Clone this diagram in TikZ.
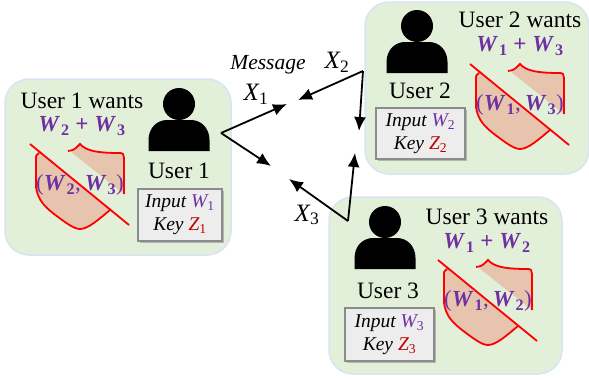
\documentclass[tikz,border=0pt]{standalone}
\usepackage{fontspec}
\setmainfont{Liberation Serif}
\usetikzlibrary{arrows.meta, positioning, calc, shadows}
\definecolor{panelgreen}{HTML}{E2EFD9}
\definecolor{panelblue}{HTML}{DAE3F3}
\definecolor{msgpurple}{HTML}{7030A0}
\definecolor{keyred}{HTML}{C00000}
\definecolor{cachefill}{HTML}{E6C4AE}
\newcommand{\wantW}[1]{\textcolor{msgpurple}{\textbf{\textit{W}\kern1pt\textsubscript{#1}}}}
\newcommand{\inW}[1]{\textcolor{msgpurple}{\textit{W}\textsubscript{\textup{#1}}}}
\newcommand{\inZ}[1]{\textcolor{keyred}{\textit{Z}\textsubscript{\textup{#1}}}}
\tikzset{
  panel/.style={draw=panelblue, line width=1.5pt, fill=panelgreen, rounded corners=24pt},
  inputbox/.style={draw=black!45, line width=1.2pt, fill=black!7, drop shadow={shadow xshift=1.5pt, shadow yshift=-1.5pt, fill=black!50},
    align=center, inner sep=0pt, font=\fontsize{19.5}{23}\selectfont\itshape},
  usertext/.style={font=\fontsize{23.5}{28}\selectfont, inner sep=0pt},
  wanttext/.style={font=\fontsize{23}{28}\selectfont, inner sep=0pt},
  msgarrow/.style={-{Latex[length=14pt,width=12pt]}, line width=1.8pt, black},
  msglabel/.style={font=\fontsize{25}{28}\selectfont\itshape, inner sep=0pt},
}
\begin{document}
\begin{tikzpicture}[x=1pt,y=-1pt]
\useasboundingbox (0,0) rectangle (589,380);
% Panels
\draw[panel] (5,79) rectangle (231,255);
\draw[panel] (365,2) rectangle (589,174);
\draw[panel] (329,197) rectangle (562,374);
% Silhouettes
\foreach \hx/\hy in {179/104, 417/26, 385/222} {
  \fill[black] (\hx,\hy) circle (16);
  \fill[black,shift={(\hx,\hy)}] (-30.5,47) -- (-30.5,36) .. controls (-30.5,24) and (-22,16) .. (-12,16)
    -- (12,16) .. controls (22,16) and (30.5,24) .. (30.5,36) -- (30.5,47) -- cycle;
}
% Crossed out caches
\foreach \cx/\cy/\ca/\cb [count=\i] in {80/144/2/3, 520/64/1/3, 488/260/1/2} {
  \begin{scope}[shift={(\cx,\cy)}]
    \fill[cachefill] (-41,7) .. controls (-44,10) .. (-44,16) -- (-44,43) .. controls (-42,56) and (-36,62) .. (-26,70)
      .. controls (-14,79) and (-6,85) .. (0,85) .. controls (8,85) and (18,76) .. (30,66) -- cycle;
    \fill[cachefill] (-9,8) .. controls (-6,5) .. (0,0) .. controls (6,7) and (18,9) .. (40,9)
      .. controls (43,9) .. (44,14) -- (44,50) -- cycle;
    \draw[red, line width=1.8pt] (-41,9) .. controls (-44,11) .. (-44,16) -- (-44,43) .. controls (-42,56) and (-36,62) .. (-26,70)
      .. controls (-14,79) and (-6,85) .. (0,85) .. controls (8,85) and (18,76) .. (30,66);
    \draw[red, line width=1.8pt] (-12,7) .. controls (-6,6) .. (0,0) .. controls (6,7) and (18,9) .. (40,9)
      .. controls (43,9) .. (44,14) -- (44,50);
    \draw[red, line width=1.8pt] (-50,0) -- (49,81);
    \node[wanttext, text=msgpurple] (cache\i) at (0,41) {(\wantW{\ca},\,\wantW{\cb})};
  \end{scope}
}
% User 1
\node[usertext] (wants1) at (82,101) {User 1 wants};
\node[wanttext] (sum1) at (82,126) {\wantW{2} \textcolor{msgpurple}{\textbf{+}} \wantW{3}};
\node[usertext] (user1) at (179,171) {User 1};
\node[inputbox, minimum width=84pt, minimum height=52pt] (box1) at (180,215) {Input \inW{1}\\Key \inZ{1}};
% User 2
\node[usertext] (wants2) at (520,20) {User 2 wants};
\node[wanttext] (sum2) at (520,46) {\wantW{1} \textcolor{msgpurple}{\textbf{+}} \wantW{3}};
\node[usertext] (user2) at (420,91) {User 2};
\node[inputbox, minimum width=89pt, minimum height=51pt] (box2) at (420.5,133.5) {Input \inW{2}\\Key \inZ{2}};
% User 3
\node[usertext] (wants3) at (487,217) {User 3 wants};
\node[wanttext] (sum3) at (487,243) {\wantW{1} \textcolor{msgpurple}{\textbf{+}} \wantW{2}};
\node[usertext] (user3) at (388,291) {User 3};
\node[inputbox, minimum width=89pt, minimum height=53pt] (box3) at (389.5,334.5) {Input \inW{3}\\Key \inZ{3}};
% Arrows
\coordinate (hub1) at (221,133);
\coordinate (hub2) at (363,71);
\coordinate (hub3) at (348,221);
\coordinate (end12) at (287,104);
\coordinate (end13) at (271,166);
\coordinate (end21) at (298,100);
\coordinate (end23) at (359,131);
\coordinate (end31) at (289,179);
\coordinate (end32) at (355,153);
\draw[msgarrow] (hub1) -- (end12);
\draw[msgarrow] (hub1) -- (end13);
\draw[msgarrow] (hub2) -- (end21);
\draw[msgarrow] (hub2) -- (end23);
\draw[msgarrow] (hub3) -- (end31);
\draw[msgarrow] (hub3) -- (end32);
\node[msglabel, font=\fontsize{21.5}{24}\selectfont\itshape] (message) at (268,65) {Message};
\node[msglabel] (x1) at (256,94) {X\textsubscript{\textup{1}}};
\node[msglabel] (x2) at (337,62) {X\textsubscript{\textup{2}}};
\node[msglabel] (x3) at (307,215) {X\textsubscript{\textup{3}}};
\end{tikzpicture}
\end{document}
